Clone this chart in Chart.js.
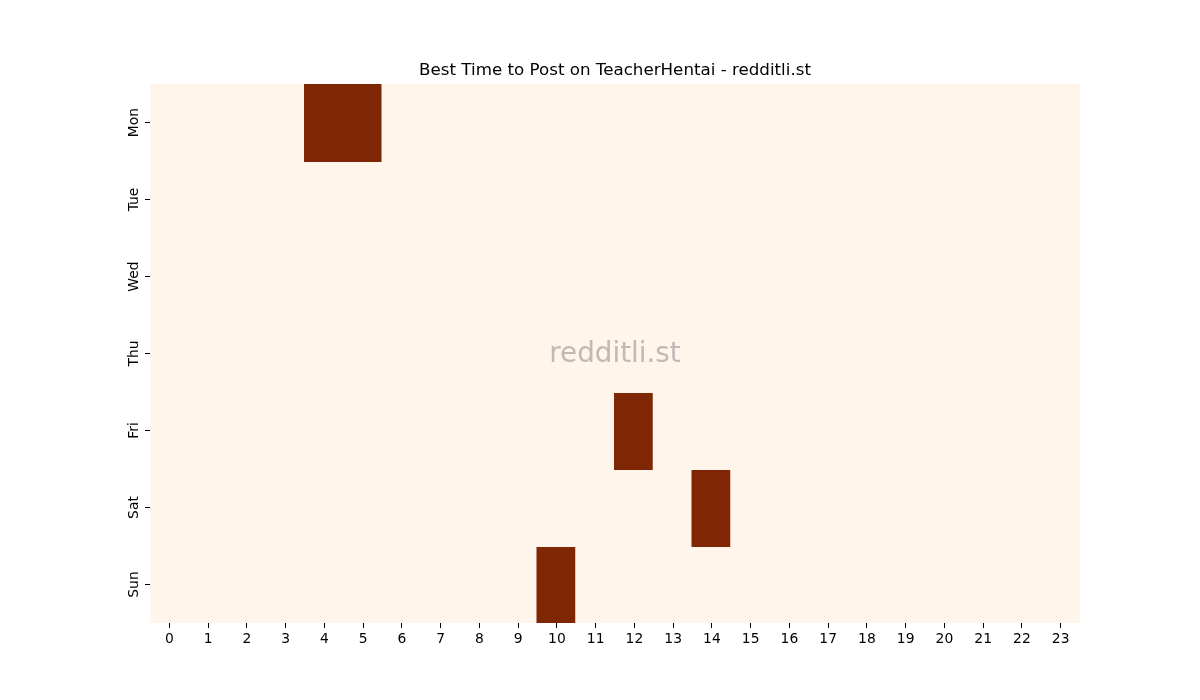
<!DOCTYPE html>
<html>
<head>
<meta charset="utf-8">
<script src="https://cdn.jsdelivr.net/npm/chart.js@4/dist/chart.umd.min.js"></script>
<style>
  html, body { margin: 0; padding: 0; background: #ffffff; }
  #wrap { width: 1200px; height: 700px; }
</style>
</head>
<body>
<div id="wrap"><canvas id="heat" width="1200" height="700"></canvas></div>
<script>
// Heatmap data (rows = days, columns = hours)
const days = ["Mon", "Tue", "Wed", "Thu", "Fri", "Sat", "Sun"];
const hours = ["0", "1", "2", "3", "4", "5", "6", "7", "8", "9", "10", "11",
               "12", "13", "14", "15", "16", "17", "18", "19", "20", "21", "22", "23"];
const monVals = [0, 0, 0, 0, 1, 1, 0, 0, 0, 0, 0, 0, 0, 0, 0, 0, 0, 0, 0, 0, 0, 0, 0, 0];
const tueVals = [0, 0, 0, 0, 0, 0, 0, 0, 0, 0, 0, 0, 0, 0, 0, 0, 0, 0, 0, 0, 0, 0, 0, 0];
const wedVals = [0, 0, 0, 0, 0, 0, 0, 0, 0, 0, 0, 0, 0, 0, 0, 0, 0, 0, 0, 0, 0, 0, 0, 0];
const thuVals = [0, 0, 0, 0, 0, 0, 0, 0, 0, 0, 0, 0, 0, 0, 0, 0, 0, 0, 0, 0, 0, 0, 0, 0];
const friVals = [0, 0, 0, 0, 0, 0, 0, 0, 0, 0, 0, 0, 1, 0, 0, 0, 0, 0, 0, 0, 0, 0, 0, 0];
const satVals = [0, 0, 0, 0, 0, 0, 0, 0, 0, 0, 0, 0, 0, 0, 1, 0, 0, 0, 0, 0, 0, 0, 0, 0];
const sunVals = [0, 0, 0, 0, 0, 0, 0, 0, 0, 0, 1, 0, 0, 0, 0, 0, 0, 0, 0, 0, 0, 0, 0, 0];
const values = [monVals, tueVals, wedVals, thuVals, friVals, satVals, sunVals];
const titleText = "Best Time to Post on TeacherHentai - redditli.st";

// two ends of the "Oranges" colour map
const lowColor = [255, 245, 235];
const highColor = [127, 39, 4];
const maxVal = Math.max(...values.flat());

function cellColor(v) {
    const t = maxVal > 0 ? v / maxVal : 0;
    const c = lowColor.map((lo, i) => Math.round(lo + (highColor[i] - lo) * t));
    return "rgb(" + c.join(",") + ")";
}

// title over the plot centre and the watermark in the middle of it
const decorations = {
    id: "decorations",
    afterDatasetsDraw(chart) {
        const { ctx, chartArea } = chart;
        const cx = (chartArea.left + chartArea.right) / 2;
        ctx.save();
        ctx.textAlign = "center";
        ctx.textBaseline = "middle";
        ctx.font = "27.8px 'DejaVu Sans'";
        ctx.fillStyle = "rgba(128, 128, 128, 0.5)";
        ctx.fillText("redditli.st", cx, (chartArea.top + chartArea.bottom) / 2 + 1);
        ctx.font = "16.7px 'DejaVu Sans'";
        ctx.fillStyle = "#000000";
        ctx.textBaseline = "alphabetic";
        ctx.fillText(titleText, cx, chartArea.top - 9);
        ctx.restore();
    },
};

const datasets = days.map((day, d) => ({
    label: day,
    data: values[d].map(() => [d - 0.5, d + 0.5]),
    backgroundColor: values[d].map(cellColor),
    borderWidth: 0,
    borderSkipped: false,
    inflateAmount: 1,
    barPercentage: 1,
    categoryPercentage: 1,
    grouped: false,
}));

const ctx = document.getElementById("heat").getContext("2d");
new Chart(ctx, {
    type: "bar",
    data: { labels: hours, datasets: datasets },
    options: {
        responsive: false,
        animation: false,
        layout: { padding: { left: 0, right: 120, top: 84, bottom: 0 } },
        plugins: {
            legend: { display: false },
            tooltip: { enabled: false },
            title: { display: false },
        },
        scales: {
            x: {
                type: "category",
                offset: true,
                border: { display: false },
                grid: { drawOnChartArea: false, offset: false, tickLength: 5, color: "#000000" },
                ticks: { color: "#000000", padding: 3, maxRotation: 0, autoSkip: false,
                         font: { family: "'DejaVu Sans'", size: 13.9 } },
                afterFit(scale) { scale.height = 77; },
            },
            y: {
                type: "linear",
                reverse: true,
                min: -0.5,
                max: 6.5,
                border: { display: false },
                grid: { drawOnChartArea: false, tickLength: 5, color: "#000000" },
                afterBuildTicks(scale) {
                    scale.ticks = days.map((_, i) => ({ value: i }));
                },
                ticks: {
                    color: "#000000",
                    minRotation: 90,
                    maxRotation: 90,
                    crossAlign: "center",
                    padding: -5,
                    font: { family: "'DejaVu Sans'", size: 13.9 },
                    callback: (v) => days[v],
                },
                afterFit(scale) { scale.width = 150; },
            },
        },
    },
    plugins: [decorations],
});
</script>
</body>
</html>
